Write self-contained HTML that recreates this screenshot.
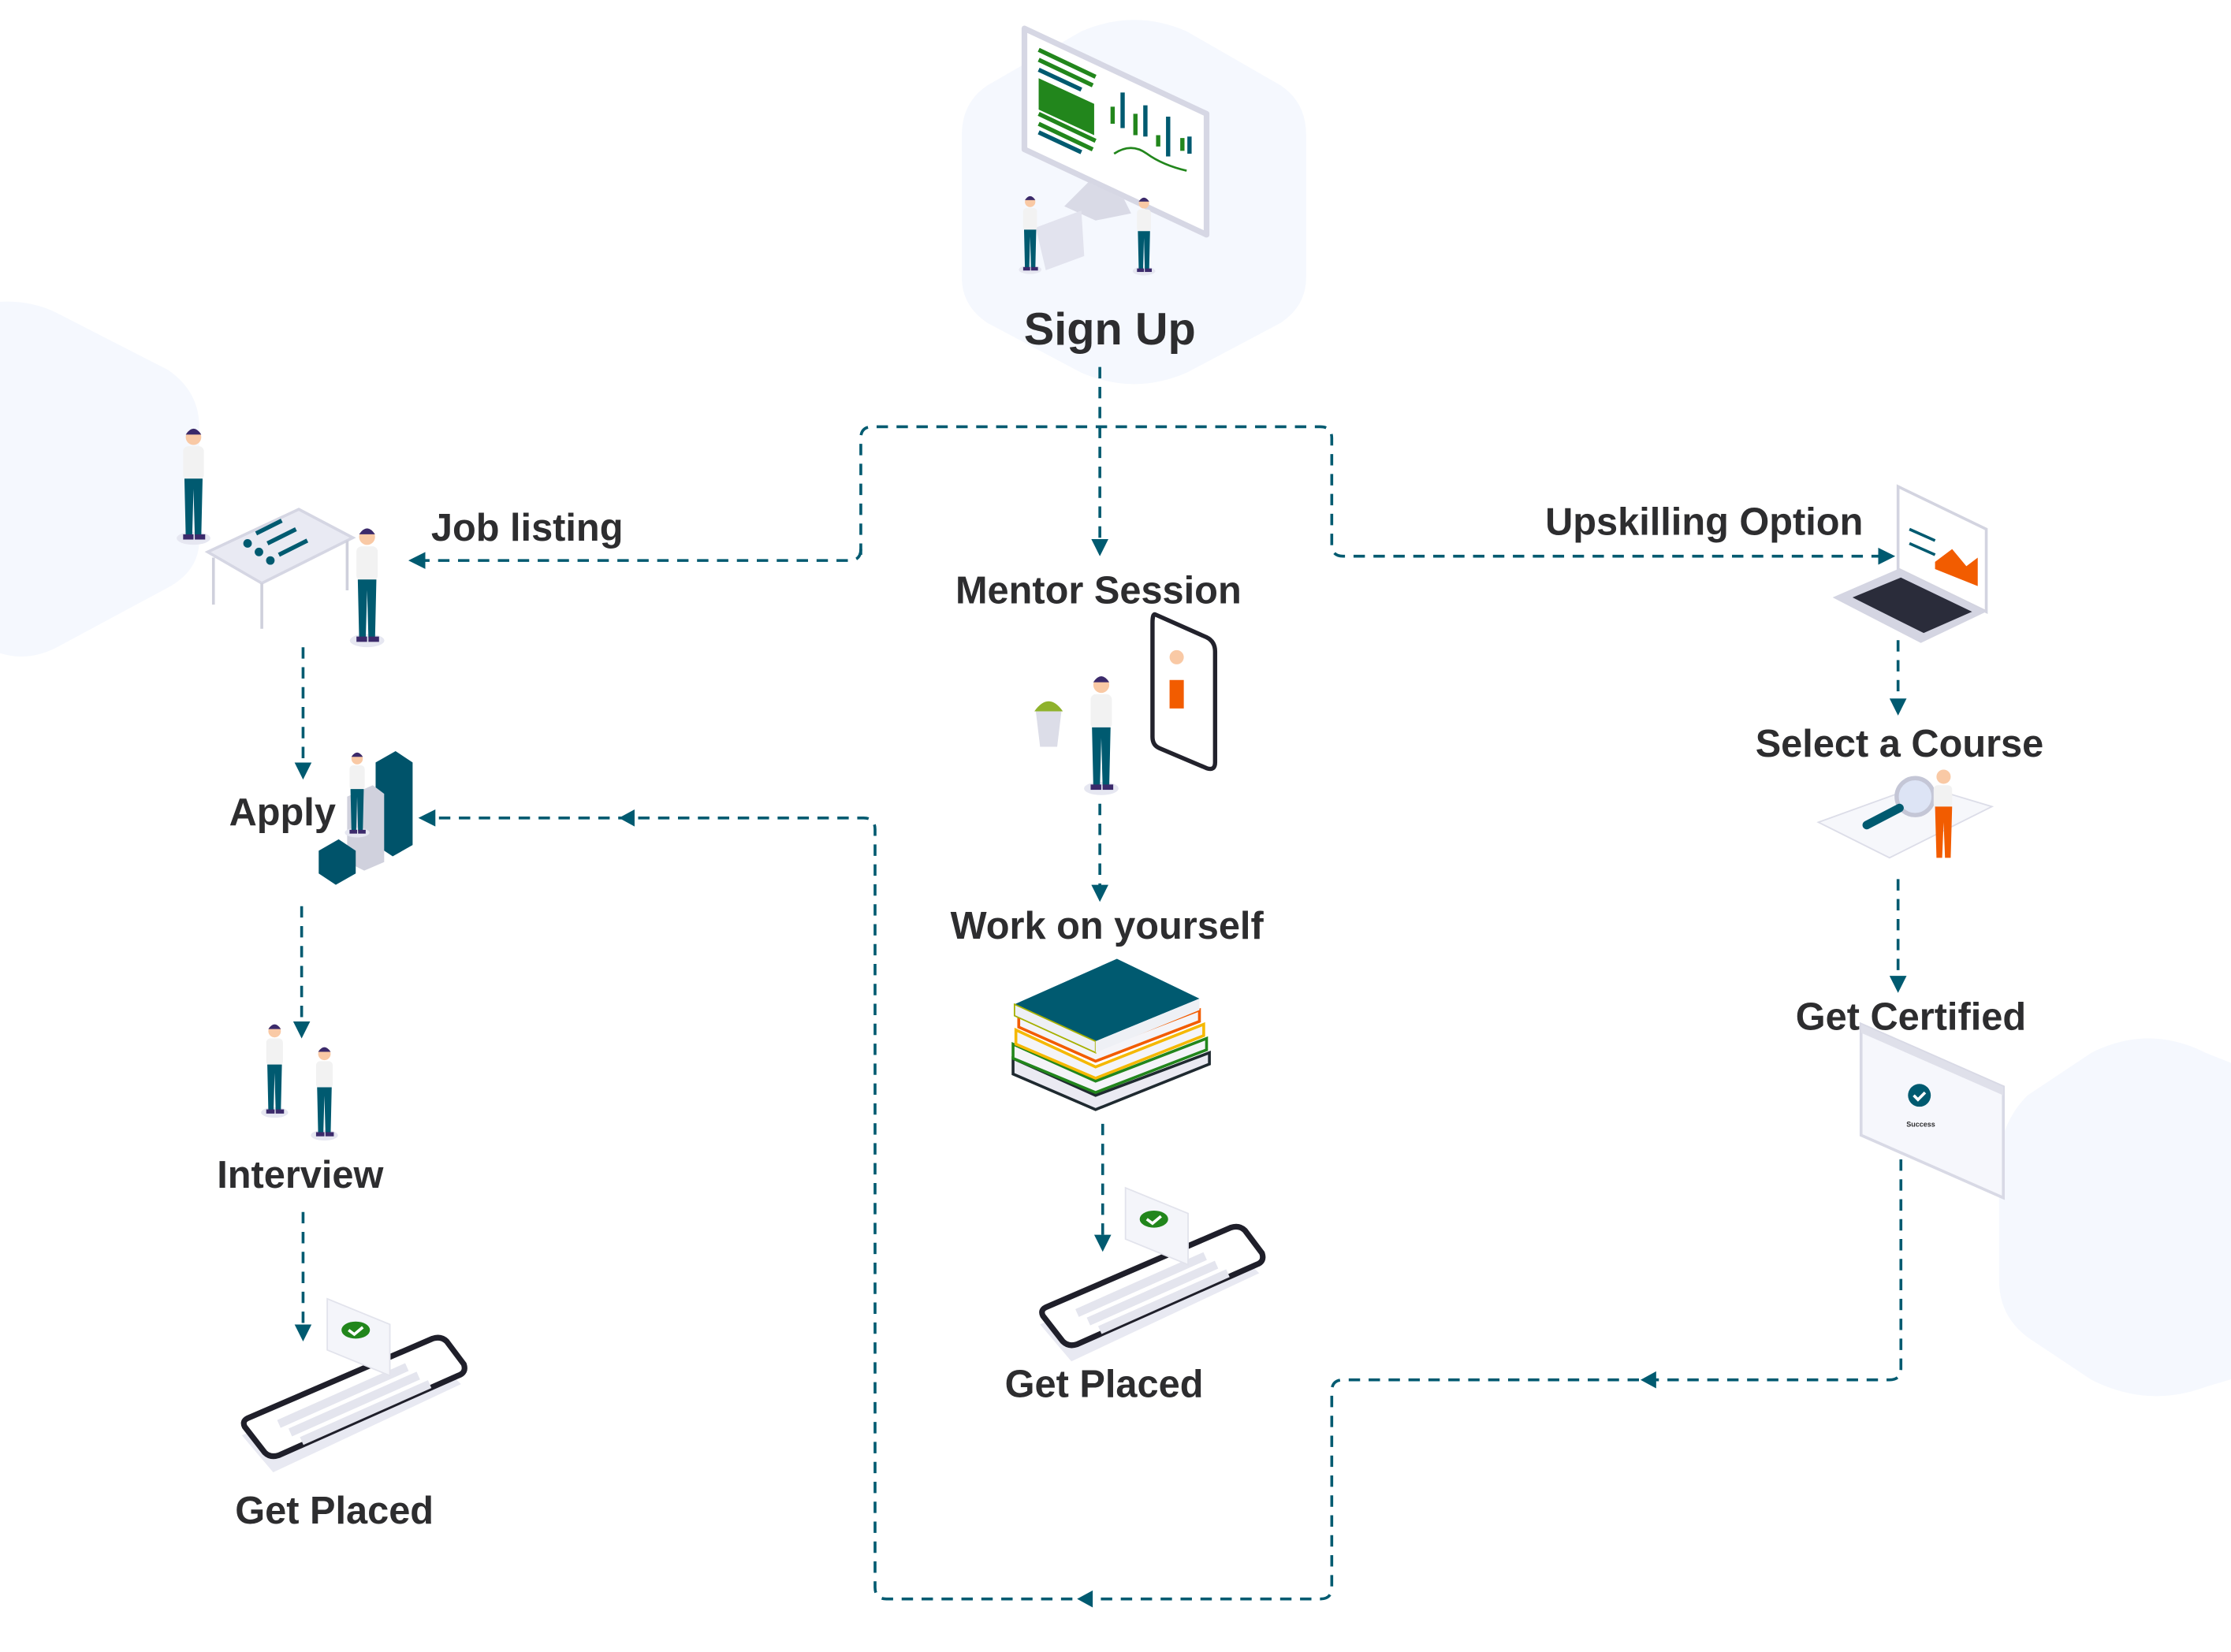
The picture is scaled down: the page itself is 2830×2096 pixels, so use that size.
<!DOCTYPE html>
<html><head><meta charset="utf-8"><style>
html,body{margin:0;padding:0;background:#fff;}
svg{display:block;}
text{font-family:"Liberation Sans",sans-serif;font-weight:bold;fill:#2d2d2f;}
</style></head><body>
<svg width="2830" height="2096" viewBox="0 0 1568 1161.3" xmlns="http://www.w3.org/2000/svg">
<defs>
<marker id="ad" viewBox="0 0 10 10" refX="5" refY="5" markerWidth="6" markerHeight="6" orient="auto"><path d="M0,0 L10,5 L0,10 z" fill="#005a70"/></marker>
<symbol id="p" viewBox="0 0 30 90" overflow="visible">
<ellipse cx="15" cy="86" rx="13" ry="5" fill="#e6e7f1"/>
<circle cx="15" cy="8" r="6" fill="#f9c9a5"/><path d="M9,6 q6,-9 12,0 z" fill="#3b2a6b"/>
<rect x="7" y="15" width="16" height="26" rx="4" fill="#f2f2f2"/>
<path d="M8,40 h14 l-1,44 h-5 l-1,-36 l-1,36 h-5 z" fill="#005a70"/>
<rect x="7" y="83" width="8" height="4" fill="#3b2a6b"/><rect x="16" y="83" width="8" height="4" fill="#3b2a6b"/>
</symbol>
<symbol id="ph" viewBox="0 0 170 130" overflow="visible">
<path d="M8,98 L140,40 L162,62 L30,124 z" fill="#e8e9f2" transform="translate(-4,6)"/>
<path d="M8,92 L138,36 Q144,34 148,38 L160,54 Q162,60 156,62 L30,118 Q24,120 20,116 L6,98 Q4,94 8,92 z" fill="#fff" stroke="#1f1f2a" stroke-width="4" stroke-linejoin="round"/>
<path d="M30,96 L120,56 M38,102 L128,62 M46,108 L136,68" stroke="#e4e5ee" stroke-width="6"/>
<path d="M64,8 L108,26 L108,62 L64,44 z" fill="#f4f5fa" stroke="#e2e3ec"/>
<ellipse cx="84" cy="30" rx="10" ry="6" fill="#22861c"/><path d="M79,30 l4,3 l6,-5" stroke="#fff" stroke-width="2" fill="none"/>
</symbol>
</defs>

<path d="M760,22 Q797,6 834,22 L900,60 Q918,72 918,95 L918,195 Q918,215 900,227 L834,262 Q797,278 760,262 L694,227 Q676,215 676,195 L676,95 Q676,72 694,60 z" fill="#f5f8fe"/>
<path d="M-60,230 Q0,200 40,220 L118,260 Q140,275 140,300 L140,380 Q140,400 120,412 L40,455 Q15,468 -10,455 L-60,430 z" fill="#f5f8fe"/>
<path d="M1470,740 Q1510,720 1550,740 L1600,760 L1600,960 L1550,975 Q1510,990 1470,970 L1425,940 Q1405,925 1405,900 L1405,820 Q1405,790 1425,770 z" fill="#f5f8fe"/>

<g fill="none" stroke="#005a70" stroke-width="2" stroke-dasharray="8 6">
<path d="M773,258 L773,385" marker-end="url(#ad)"/>
<path d="M605,390 L605,308 Q605,300 613,300 L928,300 Q936,300 936,308 L936,383 Q936,391 944,391 L1326,391" marker-end="url(#ad)"/>
<path d="M605,386 Q605,394 597,394 L293,394" marker-end="url(#ad)"/>
<path d="M213,455 L213,542" marker-end="url(#ad)"/>
<path d="M212,637 L212,724" marker-end="url(#ad)"/>
<path d="M213,852 L213,937" marker-end="url(#ad)"/>
<path d="M773,565 L773,628" marker-end="url(#ad)"/>
<path d="M775,790 L775,874" marker-end="url(#ad)"/>
<path d="M1334,450 L1334,497" marker-end="url(#ad)"/>
<path d="M1334,618 L1334,692" marker-end="url(#ad)"/>
<path d="M1336,815 L1336,962 Q1336,970 1328,970 L944,970 Q936,970 936,978 L936,1116 Q936,1124 928,1124 L623,1124 Q615,1124 615,1116 L615,583 Q615,575 607,575 L300,575" marker-end="url(#ad)"/>
</g>
<g fill="#005a70">
<path d="M1153,970 l11,-6 v12 z"/>
<path d="M757,1124 l11,-6 v12 z"/>
<path d="M435,575 l11,-6 v12 z"/>
</g>

<path d="M720,20 L848,80 L848,165 L720,105 z" fill="#fff" stroke="#d6d7e4" stroke-width="4" stroke-linejoin="round"/>
<g stroke="#22861c" stroke-width="3"><path d="M730,35 L770,54 M730,42 L768,60 M730,80 L770,99 M730,87 L768,105"/></g>
<path d="M730,55 L769,73 L769,95 L730,77 z" fill="#22861c"/>
<g stroke="#005a70" stroke-width="3"><path d="M730,49 L760,63 M730,93 L760,107 M789,65 V90 M805,74 V96 M821,82 V110 M836,96 V108"/></g>
<g stroke="#22861c" stroke-width="3"><path d="M782,75 V87 M798,80 V95 M814,95 V103 M831,97 V106"/></g>
<path d="M783,108 Q795,100 806,108 T834,120" stroke="#22861c" fill="none" stroke-width="1.5"/>
<path d="M765,128 L790,140 L795,150 L770,155 L748,145 z" fill="#d9dae6"/>
<path d="M728,160 L760,148 L762,180 L735,190 z" fill="#e2e3ee"/>
<use href="#p" x="713" y="137" width="22" height="55"/>
<use href="#p" x="794" y="138" width="20" height="55"/>
<text x="780" y="242" font-size="32" text-anchor="middle">Sign Up</text>

<path d="M146,388 L210,358 L248,378 L184,410 z" fill="#e9eaf3" stroke="#d5d6e3" stroke-width="2"/>
<path d="M150,392 V425 M184,410 V442 M244,380 V415" stroke="#cfd0dc" stroke-width="2"/>
<g stroke="#005a70" stroke-width="3"><path d="M180,375 L198,366 M188,382 L208,372 M196,390 L216,380"/></g>
<circle cx="174" cy="382" r="3" fill="#005a70"/><circle cx="182" cy="388" r="3" fill="#005a70"/><circle cx="190" cy="394" r="3" fill="#005a70"/>
<use href="#p" x="122" y="300" width="28" height="82"/>
<use href="#p" x="244" y="370" width="28" height="84"/>
<text x="303" y="380" font-size="27">Job listing</text>

<path d="M264,536 L278,528 L290,536 L290,594 L276,602 L264,594 z" fill="#00536a"/>
<path d="M244,560 L262,552 L270,558 L270,606 L256,612 L244,606 z" fill="#d0d1dd"/>
<path d="M224,598 L238,590 L250,598 L250,614 L236,622 L224,614 z" fill="#00536a"/>
<use href="#p" x="240" y="528" width="22" height="60"/>
<text x="161" y="580" font-size="27">Apply</text>

<use href="#p" x="182" y="718" width="22" height="68"/>
<use href="#p" x="217" y="734" width="22" height="68"/>
<text x="211" y="835" font-size="27" text-anchor="middle">Interview</text>

<use href="#ph" x="166" y="905" width="170" height="130"/>
<text x="235" y="1071" font-size="27" text-anchor="middle">Get Placed</text>

<text x="772" y="424" font-size="27" text-anchor="middle">Mentor Session</text>
<path d="M812,432 L848,448 Q854,451 854,458 L854,536 Q854,542 848,540 L815,526 Q810,524 810,518 L810,438 Q810,431 812,432 z" fill="#fff" stroke="#22222c" stroke-width="3"/>
<rect x="820" y="468" width="12" height="30" fill="#fff"/><path d="M822,478 h10 v20 h-10z" fill="#f25c00"/>
<circle cx="827" cy="462" r="5" fill="#f9c9a5"/>
<path d="M727,500 q10,-14 20,0 z" fill="#8fb22c"/><path d="M728,500 h18 l-3,25 h-12 z" fill="#dcdde8"/>
<use href="#p" x="760" y="474" width="28" height="84"/>

<text x="778" y="660" font-size="27" text-anchor="middle">Work on yourself</text>
<path d="M712,744 L770,770 L850,740 L850,748 L770,780 L712,755 z" fill="#eaeaf2" stroke="#1f2a30" stroke-width="2"/>
<path d="M712,734 L770,760 L848,730 L848,738 L770,768 L712,744 z" fill="#f4f4f8" stroke="#22861c" stroke-width="2"/>
<path d="M714,724 L770,750 L846,720 L846,728 L770,758 L714,734 z" fill="#f4f4f8" stroke="#f5b800" stroke-width="2"/>
<path d="M716,714 L770,738 L843,710 L843,718 L770,746 L716,722 z" fill="#f4f4f8" stroke="#f25c00" stroke-width="2"/>
<path d="M713,706 L785,674 L843,702 L770,732 z" fill="#005a70"/>
<path d="M713,706 L770,732 L770,740 L713,714 z" fill="#eef0f5" stroke="#a6b000" stroke-width="1"/>
<path d="M770,732 L843,702 L843,710 L770,740 z" fill="#eef0f5"/>

<use href="#ph" x="727" y="827" width="170" height="130"/>
<text x="776" y="982" font-size="27" text-anchor="middle">Get Placed</text>

<text x="1086" y="376" font-size="27">Upskilling Option</text>
<path d="M1334,342 L1396,372 L1396,430 L1334,400 z" fill="#fff" stroke="#d3d4e0" stroke-width="2"/>
<path d="M1360,395 L1372,386 L1382,398 L1390,392 L1390,412 L1360,400 z" fill="#f25c00"/>
<path d="M1342,372 L1360,380 M1342,382 L1360,390" stroke="#005a70" stroke-width="2"/>
<path d="M1288,420 L1334,400 L1396,430 L1350,452 z" fill="#d4d5e2"/>
<path d="M1302,420 L1336,406 L1386,430 L1352,445 z" fill="#2a2c3a"/>

<text x="1335" y="532" font-size="27" text-anchor="middle">Select a Course</text>
<path d="M1278,578 L1350,552 L1400,567 L1328,603 z" fill="#f6f7fb" stroke="#dcdde8"/>
<circle cx="1346" cy="560" r="13" fill="#dde4f5" stroke="#c4c6d6" stroke-width="3"/>
<path d="M1335,568 L1312,580" stroke="#005a70" stroke-width="6" stroke-linecap="round"/>
<circle cx="1366" cy="546" r="5" fill="#f9c9a5"/>
<rect x="1359" y="552" width="13" height="16" rx="3" fill="#f2f2f2"/>
<path d="M1360,567 h12 l-1,36 h-4 l-1,-25 l-1,25 h-4 z" fill="#f25c00"/>

<path d="M1308,720 L1408,764 L1408,842 L1308,798 z" fill="#f6f7fc" stroke="#d8d9e5" stroke-width="2"/>
<path d="M1308,720 L1408,764 L1408,770 L1308,726 z" fill="#dfe0ea"/>
<circle cx="1349" cy="770" r="8" fill="#005a70"/><path d="M1345,770 l3,3 l5,-5" stroke="#fff" stroke-width="2" fill="none"/>
<text x="1350" y="792" font-size="5" font-weight="normal" text-anchor="middle">Success</text>
<text x="1343" y="724" font-size="27" text-anchor="middle">Get Certified</text>
</svg>
</body></html>
